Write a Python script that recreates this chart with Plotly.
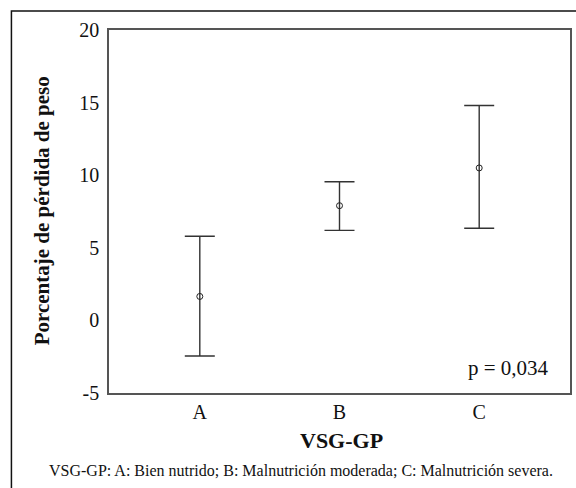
import plotly.graph_objects as go

categories = ["A", "B", "C"]
means = [1.65, 7.9, 10.5]
ci_lower = [-2.45, 6.2, 6.35]
ci_upper = [5.8, 9.55, 14.8]
y_ticks = [-5, 0, 5, 10, 15, 20]
y_tick_text = ["-5", "0", "5", "10", "15", "20"]

err_plus = [u - m for u, m in zip(ci_upper, means)]
err_minus = [m - l for m, l in zip(means, ci_lower)]

FONT = "Liberation Serif"
L, R, T, B = 109, 4, 30, 95
W, H = 576, 488
pw, ph = W - L - R, H - T - B

def px(x):
    return (x - L) / pw

def py(y):
    return (H - B - y) / ph

fig = go.Figure()
fig.add_trace(go.Scatter(
    x=[0, 1, 2], y=means, mode="markers",
    marker=dict(symbol="circle-open", size=6, color="#222", line=dict(width=1)),
    error_y=dict(type="data", symmetric=False, array=err_plus, arrayminus=err_minus,
                 color="#333", thickness=1.4, width=15),
    showlegend=False,
))

fig.update_layout(
    width=W, height=H,
    margin=dict(l=L, r=R, t=T, b=B),
    paper_bgcolor="white", plot_bgcolor="white",
    font=dict(family=FONT, color="#111", size=20),
    xaxis=dict(range=[-0.65, 2.65], tickmode="array", tickvals=[0, 1, 2], ticktext=categories,
               showgrid=False, zeroline=False, showline=True, linecolor="#555", linewidth=1.5,
               mirror=True, ticks="", tickfont=dict(family=FONT, size=20)),
    yaxis=dict(range=[-5, 20], tickmode="array", tickvals=y_ticks, ticktext=y_tick_text,
               showgrid=False, zeroline=False, showline=True, linecolor="#555", linewidth=1.5,
               mirror=True, ticks="", ticklabelstandoff=4, tickfont=dict(family=FONT, size=20)),
    shapes=[dict(type="rect", xref="paper", yref="paper",
                 x0=px(11), x1=px(590), y0=py(500), y1=py(11),
                 line=dict(color="#111", width=1.5), fillcolor="rgba(0,0,0,0)", layer="below")],
    annotations=[
        dict(text="p = 0,034", xref="paper", yref="paper", x=px(553), y=py(368),
             xanchor="right", yanchor="middle", showarrow=False, font=dict(family=FONT, size=21)),
        dict(text="<b>Porcentaje de pérdida de peso</b>", xref="paper", yref="paper",
             x=px(42), y=py(211), textangle=-90, xanchor="center", yanchor="middle",
             showarrow=False, font=dict(family=FONT, size=21)),
        dict(text="<b>VSG-GP</b>", xref="paper", yref="paper", x=px(343), y=py(440),
             xanchor="center", yanchor="middle", showarrow=False, font=dict(family=FONT, size=22)),
        dict(text="VSG-GP: A: Bien nutrido; B: Malnutrición moderada; C: Malnutrición severa.",
             xref="paper", yref="paper", x=px(302), y=py(470), xanchor="center", yanchor="middle",
             showarrow=False, font=dict(family=FONT, size=16)),
    ],
)

fig.write_html("out.html", config={"displayModeBar": False},
               post_script="document.body.style.margin='0';document.body.style.padding='0';")
